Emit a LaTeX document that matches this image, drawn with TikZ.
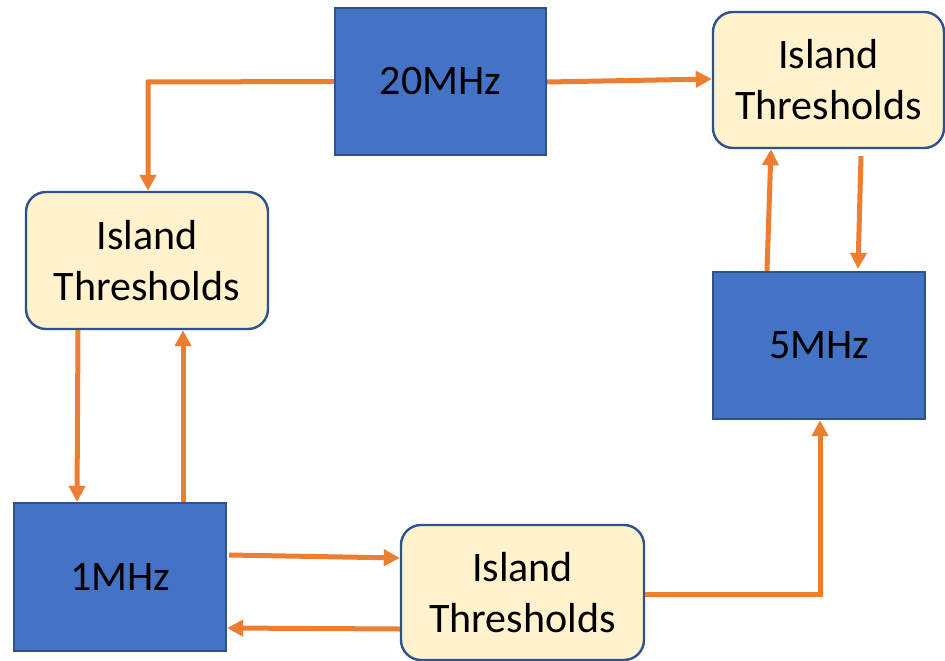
\documentclass[tikz,border=0pt]{standalone}
\usepackage{fontspec}
\setmainfont{Carlito}
\usetikzlibrary{arrows.meta}
\definecolor{boxblue}{HTML}{4472C4}
\definecolor{edgeblue}{HTML}{2F528F}
\definecolor{islandfill}{HTML}{FFF2CC}
\definecolor{flow}{HTML}{ED7D31}
\tikzset{
  freqbox/.style={draw=edgeblue, line width=2.2pt, fill=boxblue, minimum width=211pt,
    minimum height=147pt, inner sep=0pt, font=\fontsize{42}{50}\selectfont},
  island/.style={draw=edgeblue, line width=2.4pt, fill=islandfill, rounded corners=20pt,
    minimum width=241pt, minimum height=136pt, inner sep=0pt, align=center,
    font=\fontsize{42}{51}\selectfont},
  link/.style={draw=flow, line width=5pt, -{Triangle[length=16pt,width=16pt]}},
}
\begin{document}
\begin{tikzpicture}[x=1pt,y=-1pt]
  \useasboundingbox (0,0) rectangle (945,661);
  % frequency blocks
  \node[freqbox] (f20) at (440.5,81.5) {20MHz};
  \node[freqbox, minimum width=212pt] (f5) at (819,345.5) {5MHz};
  \node[freqbox, minimum width=212pt, minimum height=148pt] (f1) at (120,577) {1MHz};
  % threshold blocks
  \node[island, minimum width=231pt] (itr) at (828.5,80) {Island\\Thresholds};
  \node[island, minimum width=242pt, minimum height=137pt] (il) at (147,260.5) {Island\\Thresholds};
  \node[island, minimum width=243pt, minimum height=135pt] (ib) at (522.5,592.5) {Island\\Thresholds};
  % connectors
  \coordinate (c1) at (148,82);
  \draw[link] (f20.west) -- (c1) -- (il.north -| c1);
  \draw[link] ([yshift=-0.5pt]f20.east) -- ([yshift=1pt]itr.west);
  \draw[link] ([xshift=-52pt]f5.north) -- ([xshift=-57.5pt]itr.south);
  \draw[link] ([xshift=32.5pt,yshift=-7pt]itr.south) -- ([xshift=39pt,yshift=2pt]f5.north);
  \draw[link] ([xshift=-69pt]il.south) -- ([xshift=-43pt]f1.north);
  \draw[link] ([xshift=63pt]f1.north) -- ([xshift=36pt]il.south);
  \draw[link] ([xshift=2pt,yshift=22pt]f1.east) -- ([yshift=34.5pt]ib.west);
  \draw[link] ([yshift=-36.5pt]ib.west) -- ([yshift=-51pt]f1.east);
  \coordinate (c2) at (820,594);
  \draw[link] ([yshift=-1.5pt]ib.east) -- (c2) -- (f5.south -| c2);
\end{tikzpicture}
\end{document}
